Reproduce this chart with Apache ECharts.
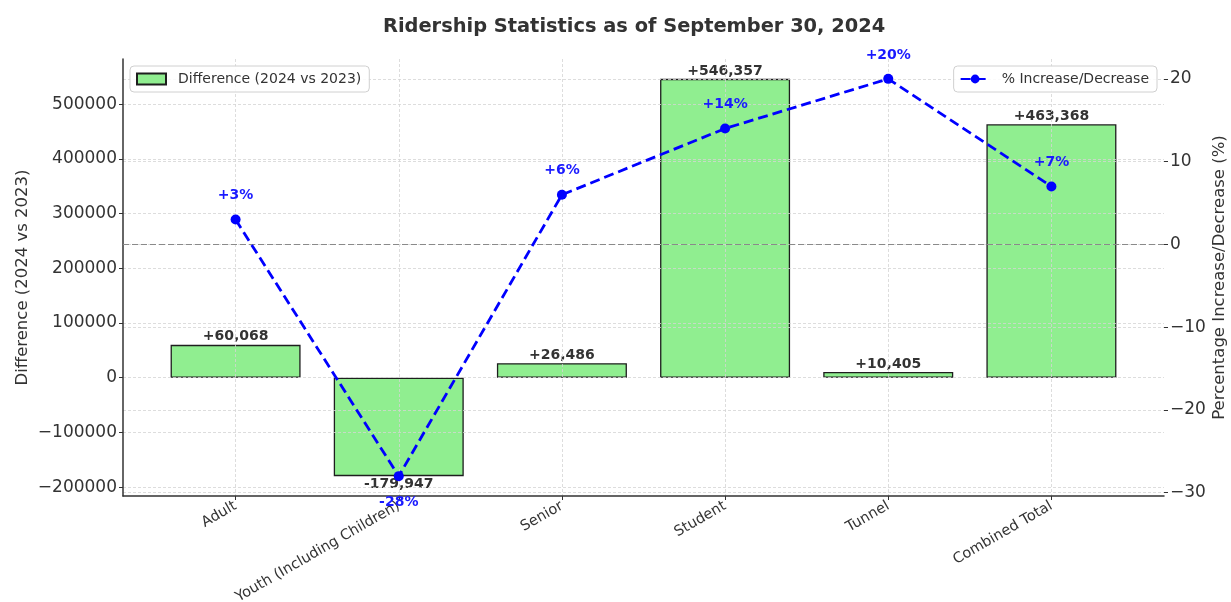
<!DOCTYPE html>
<html>
<head>
<meta charset="utf-8">
<script src="https://cdn.jsdelivr.net/npm/echarts@6/dist/echarts.min.js"></script>
<style>
html,body{margin:0;padding:0;background:#fff;}
#chart{width:1231px;height:602px;}
</style>
</head>
<body>
<div id="chart"></div>
<script>
const categories = ['Adult', 'Youth (Including Children)', 'Senior', 'Student', 'Tunnel', 'Combined Total'];
const differences = [60068, -179947, 26486, 546357, 10405, 463368];
const percentChanges = [3, -28, 6, 14, 20, 7];
const leftTicks = [-200000, -100000, 0, 100000, 200000, 300000, 400000, 500000];
const rightTicks = [-30, -20, -10, 0, 10, 20];
const categoryTicks = [0, 1, 2, 3, 4, 5];

const FONT = 'DejaVu Sans';
const TXT = '#333333';
const gridLine = { show: true, lineStyle: { color: '#d4d4d4', type: [3, 2], width: 0.8 } };

function withCommas(n) {
  const s = String(Math.abs(n));
  return s.replace(/\B(?=(\d{3})+(?!\d))/g, ',');
}
function signed(n) { return (n >= 0 ? '+' : '-') + withCommas(n); }
function minus(v) { return String(v).replace('-', '\u2212'); }

const legendBase = {
  padding: [6, 8, 6, 6],
  itemWidth: 29, itemHeight: 11, itemGap: 10,
  backgroundColor: 'rgba(255,255,255,0.85)',
  borderColor: '#d0d0d0', borderWidth: 1, borderRadius: 4,
  textStyle: { fontFamily: FONT, fontSize: 14, color: TXT, padding: [0, 0, 0, 7] }
};

const chart = echarts.init(document.getElementById('chart'));
chart.setOption({
  animation: false,
  backgroundColor: '#ffffff',
  title: {
    text: 'Ridership Statistics as of September 30, 2024',
    left: 378, top: 12,
    textStyle: { fontFamily: FONT, fontSize: 19.4, fontWeight: 'bold', color: TXT }
  },
  legend: [
    Object.assign({}, legendBase, {
      data: [{ name: 'Difference (2024 vs 2023)', icon: 'rect' }],
      left: 130, top: 66
    }),
    Object.assign({}, legendBase, {
      data: ['% Increase/Decrease'],
      right: 74, top: 66
    })
  ],
  grid: { left: 123, right: 67, top: 59, bottom: 106, containLabel: false, outerBoundsMode: 'none' },
  xAxis: {
    type: 'value', min: -0.69, max: 5.69, z: 3,
    axisLine: { show: true, onZero: false, lineStyle: { color: TXT, width: 1.5 } },
    axisTick: { show: true, customValues: categoryTicks, length: 4, lineStyle: { color: TXT } },
    axisLabel: {
      customValues: categoryTicks, rotate: 30, margin: 9,
      fontFamily: FONT, fontSize: 14.5, color: TXT,
      formatter: v => categories[Math.round(v)]
    },
    splitLine: gridLine
  },
  yAxis: [
    {
      type: 'value', min: -216262, max: 582672, z: 3,
      name: 'Difference (2024 vs 2023)', nameLocation: 'middle', nameGap: 92, nameMoveOverlap: false,
      nameTextStyle: { fontFamily: FONT, fontSize: 16.5, color: TXT },
      axisLine: { show: true, onZero: false, lineStyle: { color: TXT, width: 1.5 } },
      axisTick: { show: true, customValues: leftTicks, length: 4, lineStyle: { color: TXT } },
      axisLabel: { customValues: leftTicks, margin: 6, fontFamily: FONT, fontSize: 17, color: TXT, formatter: minus },
      splitLine: gridLine
    },
    {
      type: 'value', min: -30.4, max: 22.4, position: 'right', z: 3,
      name: 'Percentage Increase/Decrease (%)', nameLocation: 'middle', nameGap: 47, nameMoveOverlap: false,
      nameTextStyle: { fontFamily: FONT, fontSize: 16.5, color: TXT },
      axisLine: { show: false, onZero: false },
      axisTick: { show: true, customValues: rightTicks, length: 4, lineStyle: { color: TXT } },
      axisLabel: { customValues: rightTicks, margin: 6, fontFamily: FONT, fontSize: 17, color: TXT, formatter: minus },
      splitLine: gridLine
    }
  ],
  series: [
    {
      name: 'Difference (2024 vs 2023)',
      type: 'bar', yAxisIndex: 0, z: 2,
      barWidth: 130,
      itemStyle: { color: '#90EE90', borderColor: '#1e1e1e', borderWidth: 1.3 },
      label: {
        show: true, distance: 1,
        fontFamily: FONT, fontSize: 14, fontWeight: 'bold', color: TXT,
        formatter: p => signed(p.value[1])
      },
      data: differences.map((v, i) => ({
        value: [categoryTicks[i], v],
        label: { position: v >= 0 ? 'top' : 'bottom' }
      }))
    },
    {
      name: '% Increase/Decrease',
      type: 'line', yAxisIndex: 1, z: 10,
      symbol: 'circle', symbolSize: 10,
      lineStyle: { color: '#0000FF', width: 2.8, type: [10, 5] },
      itemStyle: { color: '#0000FF' },
      label: {
        show: true,
        fontFamily: FONT, fontSize: 14, fontWeight: 'bold', color: '#1a1aff',
        formatter: p => (p.value[1] >= 0 ? '+' : '-') + Math.abs(p.value[1]) + '%'
      },
      data: percentChanges.map((v, i) => ({
        value: [categoryTicks[i], v],
        label: v >= 0 ? { position: 'top', distance: 12 } : { position: 'bottom', distance: 14 }
      })),
      markLine: {
        silent: true, symbol: 'none', label: { show: false },
        lineStyle: { color: '#8a8a8a', type: [6, 3], width: 1 },
        data: [{ yAxis: 0 }]
      }
    }
  ]
});
</script>
</body>
</html>
